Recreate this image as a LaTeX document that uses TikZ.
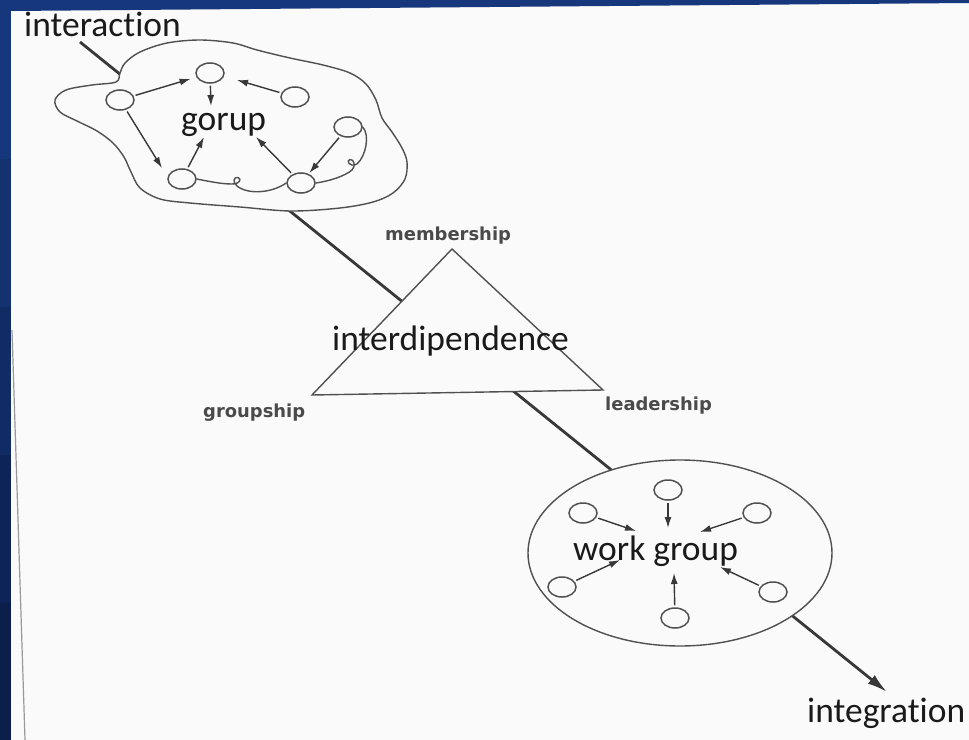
\documentclass[tikz,border=0pt]{standalone}
\usepackage{fontspec}
\setmainfont{Carlito}[Ligatures=NoCommon]
\newfontfamily\smallfont{DejaVu Sans}
\usetikzlibrary{shapes.geometric,arrows.meta}
\definecolor{bgtop}{HTML}{17377C}
\definecolor{bgbot}{HTML}{0B1E4C}
\definecolor{page}{HTML}{FAFAFB}
\definecolor{ink}{HTML}{383838}
\definecolor{thinink}{HTML}{505050}
\definecolor{txt}{HTML}{1A1A1A}
\definecolor{smalltxt}{HTML}{4A4A4A}
\tikzset{
  member/.style={draw=thinink, line width=1.5bp, ellipse, minimum width=28bp, minimum height=20bp, inner sep=0pt, fill=page},
  arr/.style={draw=ink, line width=1.4bp, -{Latex[length=11bp,width=7bp]}, shorten <=2bp},
  thincurve/.style={draw=thinink, line width=1.4bp},
  outline/.style={draw=thinink, line width=1.4bp, fill=page},
  mainline/.style={draw=ink, line width=2.8bp, -{Latex[length=20bp,width=11bp]}},
  biglabel/.style={font=\fontsize{35.6}{40}\selectfont, text=txt, inner sep=0pt, anchor=base west},
  smalllabel/.style={font=\smallfont\bfseries\fontsize{18}{20}\selectfont, text=smalltxt, inner sep=0pt, anchor=base west}
}
\begin{document}
\begin{tikzpicture}[x=1bp,y=-1bp]
\useasboundingbox (0,0) rectangle (969,740);
% page and blue frame
\fill[page] (0,0) rectangle (969,740);
\fill[bgtop] (0,0) -- (969,0) -- (969,3) -- (11,11) -- (0,11) -- cycle;
\fill[bgtop] (0,10) rectangle (11,160);
\fill[bgtop!75!bgbot] (0,159) rectangle (11,308);
\fill[bgtop!50!bgbot] (0,307) rectangle (11,456);
\fill[bgtop!25!bgbot] (0,455) rectangle (11,604);
\fill[bgbot] (0,603) rectangle (11,740);
\draw[gray!80, line width=1.2bp] (12,330) -- (25,740);

% main line
\coordinate (start) at (80,42);
\coordinate (end) at (887,692);
\draw[mainline] (start) -- (end);

% cloud
\filldraw[outline] plot[smooth cycle, tension=0.55] coordinates {
  (120,73) (116,82) (92,85) (66,90) (55,100) (60,112) (77,121) (97,131)
  (113,143) (124,157) (131,172) (140,188) (160,199) (190,203) (240,207)
  (291,211) (340,208) (373,202) (393,193) (405,179) (407,162) (402,148)
  (392,132) (382,118) (376,100) (366,84) (350,73) (323,65) (290,58)
  (257,50) (233,43) (200,40) (167,43) (140,52) (125,63)};

% triangle
\coordinate (apex) at (452,249);
\coordinate (tl) at (312,395);
\coordinate (tr) at (603,390);
\filldraw[outline] (apex) -- (tl) -- (tr) -- cycle;

% work group ellipse
\node[outline, ellipse, minimum width=304bp, minimum height=186bp, inner sep=0pt] (wg) at (680,553) {};

% labels
\node[biglabel] (interaction) at (24,37) {interaction};
\node[biglabel] (gorup) at (181,130) {gorup};
\node[biglabel] (interdip) at (332,350) {interdipendence};
\node[biglabel] (workgroup) at (573,560) {work group};
\node[biglabel] (integration) at (807,722) {integration};
\node[smalllabel] (membership) at (385,240) {membership};
\node[smalllabel] (groupship) at (203,417) {groupship};
\node[smalllabel] (leadership) at (605,410) {leadership};

% cloud members
\node[member] (A) at (120,100) {};
\node[member] (B) at (210,73) {};
\node[member] (C) at (295,97) {};
\node[member] (D) at (348,127) {};
\node[member] (E) at (182,179) {};
\node[member] (F) at (301,183) {};
\coordinate (g1) at (211,106);
\coordinate (c1) at (237,80);
\coordinate (e1) at (162,168);
\coordinate (e2) at (204,137);
\coordinate (f1) at (256,137);
\draw[arr, shorten >=6bp] (A) -- (B);
\draw[arr] (B) -- (g1);
\draw[arr] (C) -- (c1);
\draw[arr] (A) -- (e1);
\draw[arr] (E) -- (e2);
\draw[arr] (F) -- (f1);
\draw[arr, shorten >=1bp] (D) -- (F);
\draw[thincurve] (E.east) .. controls (212,182) and (222,184) .. (232,184)
   .. controls (240,184) and (242,179) .. (238,177.5)
   .. controls (234,176.5) and (232,182) .. (237,186)
   .. controls (248,195) and (272,193) .. (F.west);
\draw[thincurve] (F.east) .. controls (330,181) and (345,176) .. (352,170)
   .. controls (356,166) and (354,159) .. (350,159.5)
   .. controls (346,160) and (349,168) .. (357,164)
   .. controls (366,156) and (370,135) .. (D.east);

% work group members
\node[member] (T) at (668,490) {};
\node[member] (UL) at (583,513) {};
\node[member] (UR) at (757,513) {};
\node[member] (LL) at (562,587) {};
\node[member] (LR) at (773,592) {};
\node[member] (BO) at (675,618) {};
\coordinate (w1) at (668,528);
\coordinate (w2) at (636,531);
\coordinate (w3) at (700,532);
\coordinate (w4) at (620,560);
\coordinate (w5) at (720,567);
\coordinate (w6) at (674,573);
\draw[arr] (T) -- (w1);
\draw[arr] (UL) -- (w2);
\draw[arr] (UR) -- (w3);
\draw[arr] (LL) -- (w4);
\draw[arr] (LR) -- (w5);
\draw[arr] (BO) -- (w6);
\end{tikzpicture}
\end{document}
